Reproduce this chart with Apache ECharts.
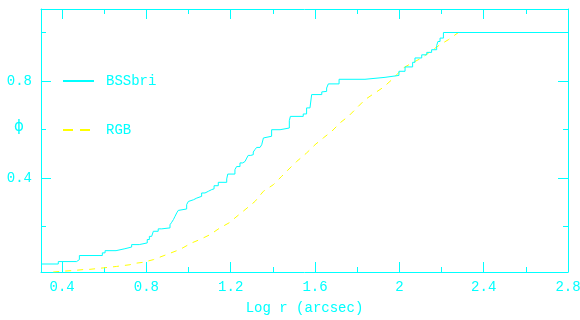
<!DOCTYPE html>
<html>
<head>
<meta charset="utf-8">
<script src="https://cdn.jsdelivr.net/npm/echarts@6/dist/echarts.min.js"></script>
<style>html,body{margin:0;padding:0;background:#fff;}#c{width:580px;height:320px;}</style>
</head>
<body>
<div id="c"></div>
<script>
// Cumulative distribution: BSSbri (step function) — [log r, phi] at each jump
const bssX = [0.300,0.382,0.469,0.482,0.591,0.604,0.656,0.698,0.730,0.766,0.804,0.814,0.825,0.833,0.856,0.873,0.912,0.920,0.928,0.936,0.944,0.951,0.959,0.991,0.999,1.007,1.023,1.039,1.062,1.078,1.094,1.110,1.121,1.141,1.181,1.186,1.220,1.228,1.244,1.257,1.268,1.276,1.283,1.295,1.307,1.315,1.323,1.339,1.347,1.355,1.363,1.394,1.434,1.478,1.483,1.544,1.560,1.576,1.584,1.632,1.639,1.655,1.663,1.714,1.837,1.932,1.998,2.027,2.063,2.074,2.106,2.130,2.153,2.177,2.183,2.193,2.209,2.800];
const bssY = [0.045,0.055,0.063,0.080,0.091,0.100,0.108,0.115,0.125,0.132,0.146,0.159,0.166,0.180,0.190,0.194,0.207,0.217,0.228,0.242,0.256,0.266,0.272,0.290,0.303,0.310,0.317,0.324,0.338,0.345,0.352,0.355,0.368,0.382,0.396,0.416,0.434,0.447,0.462,0.468,0.475,0.482,0.493,0.496,0.507,0.517,0.526,0.533,0.537,0.565,0.572,0.599,0.606,0.636,0.654,0.664,0.689,0.695,0.744,0.755,0.757,0.771,0.788,0.807,0.815,0.823,0.840,0.858,0.877,0.895,0.908,0.918,0.929,0.946,0.963,0.977,1.000,1.000];
// RGB cumulative distribution
const rgbX = [0.358,0.398,0.453,0.501,0.532,0.596,0.659,0.722,0.738,0.785,0.833,0.959,1.015,1.054,1.102,1.149,1.197,1.220,1.268,1.315,1.355,1.402,1.442,1.481,1.513,1.560,1.600,1.639,1.679,1.718,1.758,1.798,1.837,1.876,1.924,1.964,2.019,2.051,2.106,2.153,2.193,2.232,2.280,2.800];
const rgbY = [0.012,0.015,0.018,0.022,0.023,0.029,0.035,0.042,0.047,0.052,0.063,0.105,0.132,0.146,0.166,0.194,0.217,0.235,0.269,0.303,0.345,0.372,0.407,0.441,0.468,0.503,0.537,0.565,0.592,0.627,0.654,0.689,0.723,0.746,0.774,0.805,0.854,0.870,0.895,0.925,0.950,0.970,1.000,1.000];
// Axis ticks
const xMajor = [0.4,0.8,1.2,1.6,2,2.4,2.8];
const xMinor = [0.6,1.0,1.4,1.8,2.2,2.6];
const yMajor = [0.4,0.8];
const yMinor = [0.2,0.6,1.0];
const xRange = [0.3, 2.8];
const yRange = [0.012, 1.097];

const C = '#00ffff', Y = '#ffff00';
const FONT = 'Liberation Mono';

function mkX(pos, ticks, len, labels, line) {
  return {
    type: 'value', position: pos, min: xRange[0], max: xRange[1],
    axisLine: {show: line, lineStyle: {color: C, width: 1}},
    axisTick: {show: true, inside: true, length: len, customValues: ticks, lineStyle: {color: C, width: 1}},
    axisLabel: labels ? {show: true, customValues: ticks, color: C, fontFamily: FONT, fontSize: 14, margin: 8} : {show: false},
    splitLine: {show: false}
  };
}
function mkY(pos, ticks, len, labels, line) {
  return {
    type: 'value', position: pos, min: yRange[0], max: yRange[1],
    axisLine: {show: line, lineStyle: {color: C, width: 1}},
    axisTick: {show: true, inside: true, length: len, customValues: ticks, lineStyle: {color: C, width: 1}},
    axisLabel: labels ? {show: true, customValues: ticks, color: C, fontFamily: FONT, fontSize: 14, margin: 9} : {show: false},
    splitLine: {show: false}
  };
}

const xAxes = [mkX('bottom', xMajor, 10, true, true), mkX('bottom', xMinor, 5, false, false),
               mkX('top', xMajor, 10, false, true), mkX('top', xMinor, 5, false, false)];
xAxes[0].name = 'Log r (arcsec)';
xAxes[0].nameLocation = 'middle';
xAxes[0].nameGap = 29;
xAxes[0].nameMoveOverlap = false;
xAxes[0].nameTextStyle = {color: C, fontFamily: FONT, fontSize: 14};

const yAxes = [mkY('left', yMajor, 10, true, true), mkY('left', yMinor, 5, false, false),
               mkY('right', yMajor, 10, false, true), mkY('right', yMinor, 5, false, false)];
yAxes[0].name = 'ϕ';
yAxes[0].nameLocation = 'middle';
yAxes[0].nameRotate = 0;
yAxes[0].nameGap = 17;
yAxes[0].nameMoveOverlap = false;
yAxes[0].nameTextStyle = {color: C, fontFamily: 'DejaVu Sans', fontSize: 15, verticalAlign: 'bottom', padding: [0, 0, 6, 0]};

const chart = echarts.init(document.getElementById('c'), null, {renderer: 'canvas'});
chart.setOption({
  backgroundColor: '#ffffff',
  animation: false,
  grid: {left: 41, top: 9, width: 527, height: 263, containLabel: false, outerBoundsMode: 'none'},
  xAxis: xAxes,
  yAxis: yAxes,
  legend: {
    orient: 'vertical', left: 62, top: 74, padding: 0, itemWidth: 31, itemHeight: 14, itemGap: 35,
    itemStyle: {color: 'rgba(0,0,0,0)', borderWidth: 0, opacity: 0},
    textStyle: {color: C, fontFamily: FONT, fontSize: 14, padding: [0, 0, 8, 7]},
    data: [
      {name: 'BSSbri'},
      {name: 'RGB', lineStyle: {type: [10, 7]}}
    ]
  },
  series: [
    {
      name: 'RGB', type: 'line', symbol: 'none', xAxisIndex: 0, yAxisIndex: 0,
      data: rgbX.map((x, i) => [x, rgbY[i]]),
      lineStyle: {color: Y, width: 1, type: [6, 6]}, itemStyle: {color: Y}, z: 2
    },
    {
      name: 'BSSbri', type: 'line', symbol: 'none', step: 'end', xAxisIndex: 0, yAxisIndex: 0,
      data: bssX.map((x, i) => [x, bssY[i]]),
      lineStyle: {color: C, width: 1}, itemStyle: {color: C}, z: 3
    }
  ]
});
</script>
</body>
</html>
